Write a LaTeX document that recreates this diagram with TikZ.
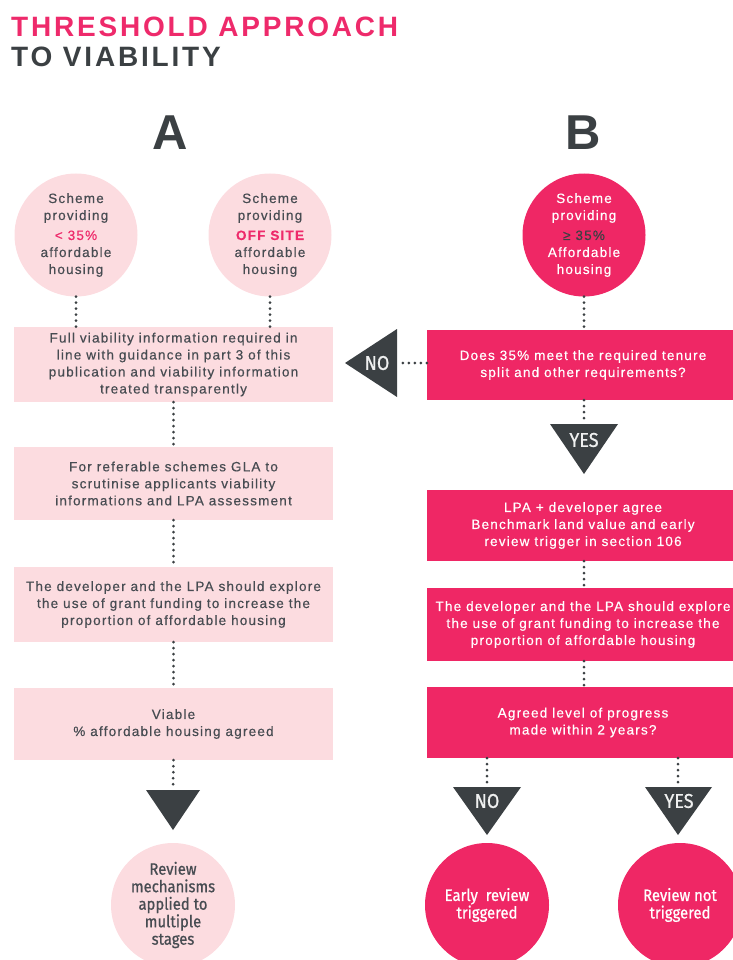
\documentclass[tikz,border=0pt]{standalone}
\usepackage{fontspec}
\setmainfont{Liberation Sans}[FakeBold=0.4,LetterSpace=9]
\newfontfamily\titlefont{Liberation Sans}
\newfontfamily\condfont[FakeStretch=0.9,FakeBold=0.8]{Fira Sans}
\definecolor{pinkT}{HTML}{EE2A6B}
\definecolor{hot}{HTML}{EF2765}
\definecolor{light}{HTML}{FCDCE0}
\definecolor{dark}{HTML}{3B4043}
\definecolor{btext}{HTML}{474C52}
\begin{document}
\begin{tikzpicture}[x=1pt,y=-1pt,
  body/.style={font=\fontsize{13.5}{17}\selectfont, align=center},
  lcirc/.style={circle, fill=light, minimum size=123pt, inner sep=0pt, body, text=btext},
  hcirc/.style={circle, fill=hot, minimum size=123pt, inner sep=0pt, body, text=white},
  lbox/.style={rectangle, fill=light, minimum width=319pt, inner sep=0pt, body, text=btext},
  hbox/.style={rectangle, fill=hot, minimum width=312pt, inner sep=0pt, body, text=white},
  tri/.style={fill=dark},
  trilabel/.style={font=\condfont\fontsize{20}{20}\selectfont, text=white!92!dark},
  ctext/.style={font=\condfont\fontsize{16.5}{17.5}\selectfont, align=center},
  dots/.style={draw=dark, line width=3pt, line cap=round, dash pattern=on 0pt off 6pt},
  ttl/.style={anchor=base west, inner sep=0pt, font=\titlefont\bfseries\addfontfeature{LetterSpace=10}\fontsize{28}{30}\selectfont}
]
\useasboundingbox (0,0) rectangle (732,960);

% title
\node[ttl, text=pinkT] (t1) at (11,37) {THRESHOLD APPROACH};
\node[ttl, text=dark] (t2) at (11,67) {TO VIABILITY};

\node[text=dark, font=\titlefont\bfseries\fontsize{49}{50}\selectfont, inner sep=0pt] (hA) at (170,133) {A};
\node[text=dark, font=\titlefont\bfseries\fontsize{49}{50}\selectfont, inner sep=0pt] (hB) at (583,133) {B};

% top circles
\node[lcirc] (a1) at (76,235) {Scheme\\providing\\[3pt]{\color{pinkT}< 35\%}\\affordable\\housing};
\node[lcirc] (a2) at (270,235) {Scheme\\providing\\[3pt]{\color{pinkT}\bfseries OFF SITE}\\affordable\\housing};
\node[hcirc] (b1) at (584,235) {Scheme\\providing\\[3pt]{\color{dark}≥ 35\%}\\Affordable\\housing};

% A boxes
\node[lbox, minimum height=75pt] (A1) at (173.5,364.5) {Full viability information required in\\line with guidance in part 3 of this\\publication and viability information\\treated transparently};
\node[lbox, minimum height=73pt] (A2) at (173.5,483.5) {For referable schemes GLA to\\scrutinise applicants viability\\informations and LPA assessment};
\node[lbox, minimum height=75pt] (A3) at (173.5,604.5) {The developer and the LPA should explore\\the use of grant funding to increase the\\proportion of affordable housing};
\node[lbox, minimum height=72pt] (A4) at (173.5,724) {Viable\\\% affordable housing agreed};

% B boxes
\node[hbox, minimum height=70pt] (B1) at (583,365) {Does 35\% meet the required tenure\\split and other requirements?};
\node[hbox, minimum height=71pt] (B2) at (583,525.5) {LPA + developer agree\\Benchmark land value and early\\review trigger in section 106};
\node[hbox, minimum height=73pt] (B3) at (583,624.5) {The developer and the LPA should explore\\the use of grant funding to increase the\\proportion of affordable housing};
\node[hbox, minimum height=71pt] (B4) at (583,722.5) {Agreed level of progress\\made within 2 years?};

% triangles
\fill[tri] (345,363) -- (397,329) -- (397,397) -- cycle;
\coordinate (no1in) at (399,363);
\node[trilabel] (no1) at (377,363) {NO};

\fill[tri] (550,424) -- (618,424) -- (584,474) -- cycle;
\coordinate (yes1in) at (584,424);
\node[trilabel] (yes1) at (584,440) {YES};

\fill[tri] (146,790) -- (200,790) -- (173,830) -- cycle;
\coordinate (dAin) at (173,790);

\fill[tri] (453,787) -- (521,787) -- (487,835) -- cycle;
\coordinate (no2in) at (487,787);
\node[trilabel] (no2) at (487,801) {NO};

\fill[tri] (645,787) -- (712,787) -- (678,835) -- cycle;
\coordinate (yes2in) at (678,787);
\node[trilabel] (yes2) at (679,801) {YES};

% bottom circles
\node[circle, fill=light, minimum size=124pt, inner sep=0pt, ctext, text=btext] (ra) at (173,905) {Review\\mechanisms\\applied to\\multiple\\stages};
\node[circle, fill=hot, minimum size=124pt, inner sep=0pt, ctext, text=white] (rb1) at (487,905) {Early\ \ review\\triggered};
\node[circle, fill=hot, minimum size=124pt, inner sep=0pt, ctext, text=white] (rb2) at (680,905) {Review not\\triggered};

% connectors
\draw[dots] (a1.south) -- (a1.south |- A1.north);
\draw[dots] (a2.south) -- (a2.south |- A1.north);
\draw[dots] (b1.south) -- (b1.south |- B1.north);
\draw[dots] (A1.south) -- (A2.north);
\draw[dots] (A2.south) -- (A3.north);
\draw[dots] (A3.south) -- (A4.north);
\draw[dots] (A4.south) -- (dAin);
\draw[dots] (B1.west |- no1in) -- (no1in);
\draw[dots] (B1.south -| yes1in) -- (yes1in);
\draw[dots] (B2.south -| b1.south) -- (B3.north -| b1.south);
\draw[dots] (B3.south -| b1.south) -- (B4.north -| b1.south);
\draw[dots] (B4.south -| no2in) -- (no2in);
\draw[dots] (B4.south -| yes2in) -- (yes2in);
\end{tikzpicture}
\end{document}
